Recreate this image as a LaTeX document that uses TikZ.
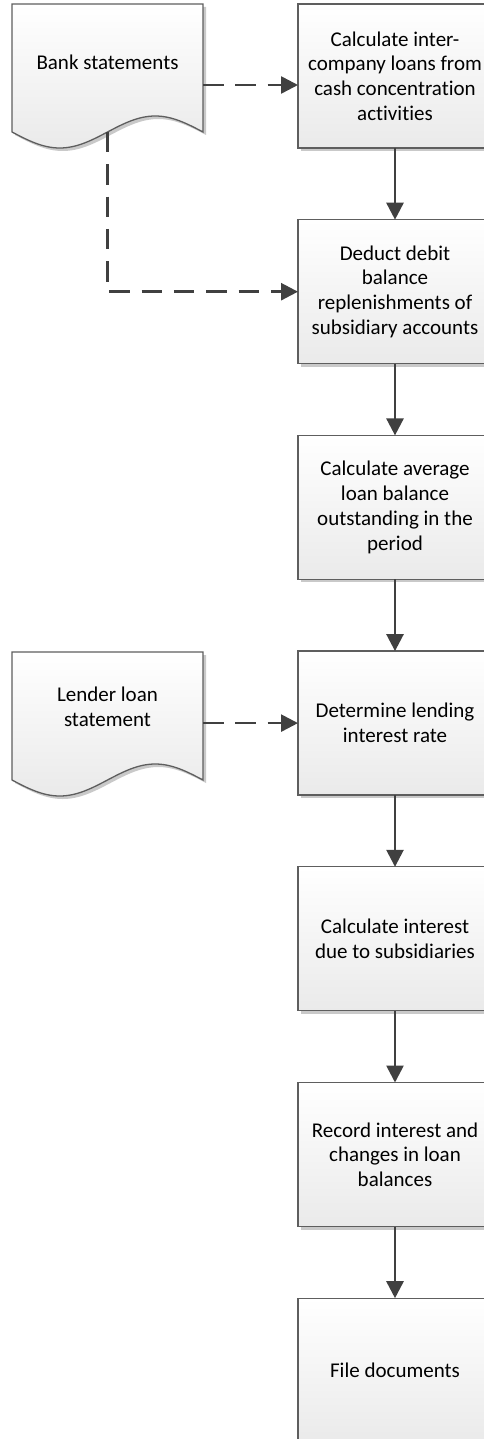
\documentclass[tikz,border=0pt]{standalone}
\usepackage{fontspec}
\setmainfont{Carlito}[Ligatures={NoCommon,NoContextual}]
\usetikzlibrary{arrows.meta,shadows,calc}

\definecolor{edgegray}{HTML}{5E5E5E}
\definecolor{flowgray}{HTML}{404040}
\definecolor{shadegray}{HTML}{EAEAEA}
\definecolor{shadowgray}{HTML}{C9C9C9}

% outline of a document symbol built on a (text-less) rectangle node
\newcommand\docoutline[1]{(#1.north west) -- (#1.north east) -- (#1.south east)
  sin ($(#1.south east)+(-47.75,-16)$) cos (#1.south)
  sin ($(#1.south west)+(47.75,16)$) cos (#1.south west) -- cycle}

\tikzset{
  stepbox/.style={rectangle, draw=edgegray, line width=1.3pt,
    top color=white, bottom color=shadegray,
    minimum width=194pt, minimum height=144pt, inner sep=0pt, outer sep=0pt,
    align=center, font=\fontsize{21}{24.7}\selectfont,
    drop shadow={shadow xshift=3pt, shadow yshift=-3pt, fill=shadowgray, opacity=1}},
  docbody/.style={rectangle, minimum width=191pt, minimum height=128pt,
    inner sep=0pt, outer sep=0pt},
  doctext/.style={align=center, font=\fontsize{21}{24.7}\selectfont, inner sep=0pt},
  docfill/.style={draw=edgegray, line width=1.3pt, top color=white, bottom color=shadegray},
  docshadow/.style={fill=shadowgray, transform canvas={shift={(3pt,-3pt)}}},
  flow/.style={draw=flowgray, line width=2.6pt,
    -{Triangle[length=17pt, width=17pt]}},
  dasharrow/.style={flow, dash pattern=on 20.5pt off 11.8pt}
}

\begin{document}
\begin{tikzpicture}[x=1pt, y=-1pt]
  \useasboundingbox (0,0) rectangle (484,1439);
  \fill[white] (0,0) rectangle (484,1439);
  \clip (0,0) rectangle (484,1439);

  % process steps
  \node[stepbox] (b1) at (395,76)     {Calculate inter-\\company loans from\\cash concentration\\activities};
  \node[stepbox] (b2) at (395,291.7)  {Deduct debit\\balance\\replenishments of\\subsidiary accounts};
  \node[stepbox] (b3) at (395,507.4)  {Calculate average\\loan balance\\outstanding in the\\period};
  \node[stepbox] (b4) at (395,723.1)  {Determine lending\\interest rate};
  \node[stepbox] (b5) at (395,938.8)  {Calculate interest\\due to subsidiaries};
  \node[stepbox] (b6) at (395,1154.5) {Record interest and\\changes in loan\\balances};
  \node[stepbox] (b7) at (395,1370.2) {File documents};

  % source documents
  \node[docbody] (bank) at (107.5,68) {};
  \fill[docshadow] \docoutline{bank};
  \path[docfill] \docoutline{bank};
  \node[doctext] (banktext) at (107.5,62) {Bank statements};

  \node[docbody] (lender) at (107.5,716) {};
  \fill[docshadow] \docoutline{lender};
  \path[docfill] \docoutline{lender};
  \node[doctext] (lendertext) at (107.5,706.5) {Lender loan\\statement};

  % process flow
  \draw[flow] (b1) -- (b2);
  \draw[flow] (b2) -- (b3);
  \draw[flow] (b3) -- (b4);
  \draw[flow] (b4) -- (b5);
  \draw[flow] (b5) -- (b6);
  \draw[flow] (b6) -- (b7);

  % document inputs
  \coordinate (bankout) at ([yshift=-17pt]bank.east);
  \draw[dasharrow] (bankout) -- (bankout -| b1.west);
  \draw[dasharrow] (bank.south) |- (b2.west);
  \draw[dasharrow] (lender.east |- b4.west) -- (b4.west);
\end{tikzpicture}
\end{document}
